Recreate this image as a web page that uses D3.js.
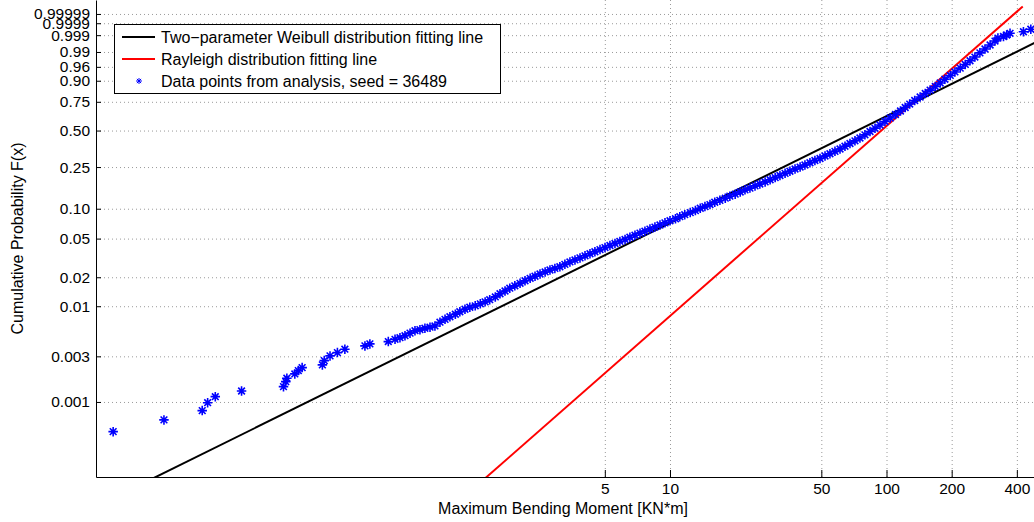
<!DOCTYPE html>
<html>
<head>
<meta charset="utf-8">
<script src="https://cdn.jsdelivr.net/npm/d3@7"></script>
<style>
  body { margin: 0; background: #fff; }
  svg { display: block; font-family: "Liberation Sans", Arial, Helvetica, sans-serif; }
</style>
</head>
<body>
<div id="chart"></div>
<script>
// probability plot on Weibull paper: x is log(moment), y is log(-log(1-F))

var width = 1034, height = 522;
var plot = {left: 96, right: 1034, top: 0, bottom: 477};

// axis settings
var xLimits = [0.02233, 480];
var yLimits = [0.000164, 0.9999999];
var xTicks = [5, 10, 50, 100, 200, 400];
var yTicks = [0.001, 0.003, 0.01, 0.02, 0.05, 0.10, 0.25, 0.50, 0.75, 0.90, 0.96, 0.99, 0.999, 0.9999, 0.99999];
var yTickLabels = ["0.001", "0.003", "0.01", "0.02", "0.05", "0.10", "0.25", "0.50", "0.75", "0.90", "0.96", "0.99", "0.999", "0.9999", "0.99999"];

// fitted lines, two end points each (moment, probability)
var weibullLineMoment = [0.0271, 1061];
var weibullLineProb = [0.0001, 0.999999];
var rayleighLineMoment = [1.109, 425.8];
var rayleighLineProb = [0.0001, 0.999999];

// data points (sorted moment, plotting position)
var pointMoment = [
  0.0268, 0.0460, 0.0691, 0.0732, 0.0794, 0.105, 0.164, 0.168, 0.170, 0.185,
  0.192, 0.200, 0.248, 0.253, 0.269, 0.291, 0.315, 0.390, 0.411, 0.500,
  0.537, 0.566, 0.597, 0.630, 0.664, 0.700, 0.738, 0.779, 0.821, 0.866,
  0.914, 0.963, 1.02, 1.07, 1.13, 1.19, 1.26, 1.33, 1.40, 1.47,
  1.56, 1.64, 1.73, 1.82, 1.92, 2.03, 2.14, 2.26, 2.38, 2.51,
  2.65, 2.79, 2.94, 3.10, 3.27, 3.45, 3.64, 3.84, 4.05, 4.27,
  4.50, 4.75, 5.01, 5.28, 5.57, 5.87, 6.20, 6.53, 6.89, 7.27,
  7.66, 8.08, 8.52, 8.99, 9.48, 10.0, 10.6, 11.1, 11.7, 12.4,
  13.1, 13.8, 14.5, 15.3, 16.1, 17.0, 18.0, 18.9, 20.0, 21.1,
  22.2, 23.4, 24.7, 26.0, 27.5, 29.0, 30.6, 32.2, 34.0, 35.8,
  37.8, 39.9, 42.0, 44.3, 46.7, 49.3, 52.0, 54.8, 57.8, 61.0,
  64.3, 67.8, 71.5, 75.4, 79.5, 83.9, 88.5, 93.3, 98.4, 104,
  110, 116, 122, 128, 135, 143, 151, 159, 168, 177,
  186, 197, 207, 219, 231, 243, 256, 270, 285, 301,
  317, 327, 347, 359, 372, 429, 464
];
var pointProb = [
  0.000489, 0.000649, 0.000812, 0.000983, 0.001136, 0.001303, 0.001446, 0.001632, 0.00177, 0.001965,
  0.002128, 0.002287, 0.002441, 0.002708, 0.003032, 0.003283, 0.003563, 0.003857, 0.004048, 0.004279,
  0.00452, 0.00470, 0.00493, 0.00524, 0.00556, 0.00570, 0.00589, 0.00605, 0.00623, 0.00682,
  0.00730, 0.00777, 0.00825, 0.00876, 0.00930, 0.00975, 0.0101, 0.0106, 0.0111, 0.0117,
  0.0125, 0.0135, 0.0144, 0.0154, 0.0163, 0.0173, 0.0184, 0.0195, 0.0205, 0.0216,
  0.0227, 0.0238, 0.0247, 0.0257, 0.0272, 0.0288, 0.0302, 0.0317, 0.0333, 0.0350,
  0.0367, 0.0386, 0.0405, 0.0425, 0.0446, 0.0468, 0.0490, 0.0516, 0.0541, 0.0568,
  0.0595, 0.0625, 0.0655, 0.0687, 0.0722, 0.0758, 0.0794, 0.0833, 0.0872, 0.0915,
  0.0958, 0.101, 0.105, 0.110, 0.116, 0.121, 0.127, 0.133, 0.139, 0.146,
  0.153, 0.159, 0.167, 0.174, 0.182, 0.191, 0.200, 0.209, 0.219, 0.229,
  0.240, 0.250, 0.261, 0.273, 0.286, 0.298, 0.313, 0.327, 0.343, 0.359,
  0.378, 0.398, 0.418, 0.440, 0.465, 0.492, 0.519, 0.547, 0.578, 0.609,
  0.640, 0.671, 0.701, 0.731, 0.761, 0.789, 0.816, 0.841, 0.865, 0.887,
  0.908, 0.927, 0.942, 0.956, 0.967, 0.976, 0.983, 0.989, 0.9929, 0.9957,
  0.9975, 0.9984, 0.99875, 0.99903, 0.99927, 0.99945, 0.99965
];

var legendLabels = [
  "Two\u2212parameter Weibull distribution fitting line",
  "Rayleigh distribution fitting line",
  "Data points from analysis, seed = 36489"
];

var svg = d3.select("#chart")
  .append("svg")
    .attr("width", width)
    .attr("height", height);

/** scales */
var x = d3.scaleLog()
  .domain(xLimits)
  .range([plot.left, plot.right]);

function weib(p) { return Math.log(-Math.log(1 - p)); }

var yLin = d3.scaleLinear()
  .domain(yLimits.map(weib))
  .range([plot.bottom, plot.top]);

// probability scale, shaped so d3.axis can use it
function y(p) { return yLin(weib(p)); }
y.range = function() { return yLin.range(); };
y.domain = function() { return yLimits; };
y.copy = function() { return y; };

/** dotted grid */
var gridX = svg.append("g")
  .attr("transform", "translate(0," + plot.bottom + ")")
  .call(d3.axisBottom(x).tickValues(xTicks).tickSize(-(plot.bottom - plot.top)).tickFormat(""));
var gridY = svg.append("g")
  .attr("transform", "translate(" + plot.left + ",0)")
  .call(d3.axisLeft(y).tickValues(yTicks).tickSize(-(plot.right - plot.left)).tickFormat(""));
[gridX, gridY].forEach(function(g) {
  g.select(".domain").remove();
  g.selectAll("line")
    .attr("stroke", "#9a9a9a")
    .attr("stroke-dasharray", "1,3");
});

/** clip for the fitting lines */
svg.append("clipPath")
    .attr("id", "plotclip")
  .append("rect")
    .attr("x", plot.left)
    .attr("y", plot.top)
    .attr("width", plot.right - plot.left)
    .attr("height", plot.bottom - plot.top);

var line = d3.line()
  .x(function(d) { return x(d[0]); })
  .y(function(d) { return y(d[1]); });

svg.append("path")
  .datum(d3.zip(weibullLineMoment, weibullLineProb))
  .attr("d", line)
  .attr("fill", "none")
  .attr("stroke", "#000")
  .attr("stroke-width", 2)
  .attr("clip-path", "url(#plotclip)");

svg.append("path")
  .datum(d3.zip(rayleighLineMoment, rayleighLineProb))
  .attr("d", line)
  .attr("fill", "none")
  .attr("stroke", "#ff0000")
  .attr("stroke-width", 2)
  .attr("clip-path", "url(#plotclip)");

/** asterisk marker like matlab '*' */
var asterisk = {
  draw: function(ctx, size) {
    var r = Math.sqrt(size) / 2, a = r * Math.SQRT1_2;
    ctx.moveTo(-r, 0); ctx.lineTo(r, 0);
    ctx.moveTo(0, -r); ctx.lineTo(0, r);
    ctx.moveTo(-a, -a); ctx.lineTo(a, a);
    ctx.moveTo(-a, a); ctx.lineTo(a, -a);
  }
};
var star = d3.symbol().type(asterisk).size(90);

svg.append("g")
  .selectAll("path")
  .data(d3.zip(pointMoment, pointProb))
  .enter()
  .append("path")
    .attr("transform", function(d) { return "translate(" + x(d[0]) + "," + y(d[1]) + ")"; })
    .attr("d", star)
    .attr("fill", "none")
    .attr("stroke", "#0000ff")
    .attr("stroke-width", 1.6);

/** axes */
var xAxis = svg.append("g")
  .attr("transform", "translate(0," + plot.bottom + ")")
  .call(d3.axisBottom(x).tickValues(xTicks).tickFormat(d3.format("d"))
    .tickSizeInner(-7).tickSizeOuter(0).tickPadding(6));
var yAxis = svg.append("g")
  .attr("transform", "translate(" + plot.left + ",0)")
  .call(d3.axisLeft(y).tickValues(yTicks).tickFormat(function(d, i) { return yTickLabels[i]; })
    .tickSizeInner(-5).tickSizeOuter(0).tickPadding(6));
[xAxis, yAxis].forEach(function(g) {
  g.attr("font-family", null).attr("font-size", 15.5);
  g.selectAll("text").attr("fill", "#000");
  g.selectAll("line, .domain").attr("stroke", "#000");
});

/** axis titles */
svg.append("text")
  .attr("x", 563)
  .attr("y", 514)
  .attr("text-anchor", "middle")
  .attr("font-size", 16)
  .text("Maximum Bending Moment [KN*m]");

svg.append("text")
  .attr("transform", "translate(23," + ((plot.top + plot.bottom) / 2) + ") rotate(-90)")
  .attr("text-anchor", "middle")
  .attr("font-size", 16)
  .text("Cumulative Probability F(x)");

/** legend */
var legend = svg.append("g").attr("transform", "translate(114,24)");
legend.append("rect")
  .attr("x", 0.5).attr("y", 0.5)
  .attr("width", 386).attr("height", 69)
  .attr("fill", "#fff")
  .attr("stroke", "#000");

var rows = legend.selectAll("g.row")
  .data(legendLabels)
  .enter()
  .append("g")
    .attr("class", "row")
    .attr("transform", function(d, i) { return "translate(0," + (13 + i * 22) + ")"; });

rows.append("text")
  .attr("x", 47)
  .attr("dy", "0.36em")
  .attr("font-size", 16)
  .text(function(d) { return d; });

rows.filter(function(d, i) { return i < 2; })
  .append("line")
    .attr("x1", 8).attr("x2", 41)
    .attr("stroke", function(d, i) { return i === 0 ? "#000" : "#ff0000"; })
    .attr("stroke-width", 2);

rows.filter(function(d, i) { return i === 2; })
  .append("path")
    .attr("transform", "translate(25,0)")
    .attr("d", d3.symbol().type(asterisk).size(36))
    .attr("fill", "none")
    .attr("stroke", "#0000ff");
</script>
</body>
</html>
